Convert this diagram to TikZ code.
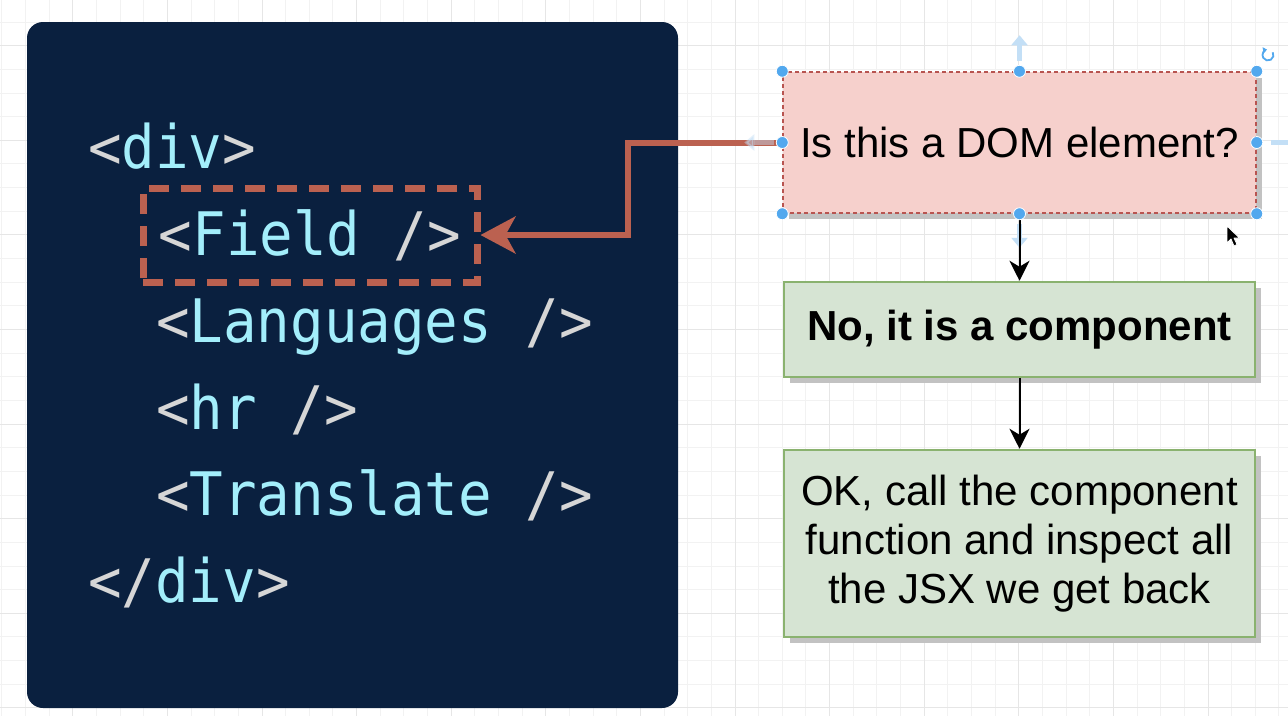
\documentclass[tikz,border=0pt]{standalone}
\usepackage{fontspec}
\setmainfont{Liberation Sans}
\newfontfamily\codefont[FakeStretch=0.93]{DejaVu Sans Mono}
\usetikzlibrary{positioning, shadows, arrows.meta}

\definecolor{navy}{HTML}{0A203F}
\definecolor{tagname}{HTML}{A3EEFB}
\definecolor{tagpunct}{HTML}{D6D6D6}
\definecolor{brick}{HTML}{BB6150}
\definecolor{pinkfill}{HTML}{F6D0CC}
\definecolor{pinkline}{HTML}{B85450}
\definecolor{greenfill}{HTML}{D6E4D3}
\definecolor{greenline}{HTML}{8AB26F}
\definecolor{handle}{HTML}{52A8EE}
\definecolor{hint}{HTML}{C3DFF6}
\definecolor{gridminor}{HTML}{F2F2F2}
\definecolor{gridmajor}{HTML}{E6E6E6}

\newcommand{\pn}[1]{\textcolor{tagpunct}{#1}}
\newcommand{\nm}[1]{\textcolor{tagname}{#1}}

\tikzset{
  codeline/.style={anchor=base west, inner sep=0pt, font=\codefont\fontsize{60}{86}\selectfont},
  flowbox/.style={line width=2pt, align=center, font=\fontsize{42}{49}\selectfont,
    drop shadow={shadow xshift=6pt, shadow yshift=-6pt, opacity=1, fill=black!24}},
  flowarrow/.style={black, line width=2pt, -{Stealth[length=20pt, width=20pt, inset=6pt]}},
  handledot/.style={circle, fill=handle, draw=white, line width=0.8pt, inner sep=0pt, minimum size=12pt},
  hintarrow/.style={hint, line width=5pt, -{Triangle[length=10pt, width=16pt]}},
}

\begin{document}
\begin{tikzpicture}[x=1pt, y=-1pt]
    \useasboundingbox (0,0) rectangle (1288,716);
    \fill[white] (0,0) rectangle (1288,716);

    % canvas grid
    \foreach \k in {0,...,54} {
        \draw[gridminor, line width=1pt] ({1.85+23.65*\k},0) -- ({1.85+23.65*\k},716);
    }
    \foreach \k in {0,...,30} {
        \draw[gridminor, line width=1pt] (0,{-1.6+23.65*\k}) -- (1288,{-1.6+23.65*\k});
    }
    \foreach \k in {0,...,13} {
        \draw[gridmajor, line width=1pt] ({72.8+94.6*\k},0) -- ({72.8+94.6*\k},716);
    }
    \foreach \k in {0,...,7} {
        \draw[gridmajor, line width=1pt] (0,{45.7+94.6*\k}) -- (1288,{45.7+94.6*\k});
    }

    % code panel
    \fill[navy, rounded corners=16pt] (27,22) rectangle (678,708);

    \node[codeline] (divopen) at (88,168) {\pn{<}\nm{div}\pn{>}};
    \node[codeline, anchor=center, draw=brick, line width=7pt, dash pattern=on 20pt off 12pt,
          minimum width=334pt, minimum height=94pt] (field) at (310,235) {\pn{<}\nm{Field} \pn{/>}};
    \node[codeline] (langs) at (156,342) {\pn{<}\nm{Languages} \pn{/>}};
    \node[codeline] (hrtag) at (156,429) {\pn{<}\nm{hr} \pn{/>}};
    \node[codeline] (transl) at (156,515) {\pn{<}\nm{Translate} \pn{/>}};
    \node[codeline] (divclose) at (88,602) {\pn{</}\nm{div}\pn{>}};

    % flow on the right
    \node[flowbox, fill=pinkfill, draw=pinkline, line width=1.5pt, dash pattern=on 4pt off 3pt,
          minimum width=473pt, minimum height=141pt] (dom) at (1019.5,142.5) {Is this a DOM element?};
    \node[flowbox, fill=greenfill, draw=greenline, minimum width=471pt, minimum height=95pt,
          font=\fontsize{42}{49}\selectfont\bfseries, below=67pt of dom] (comp) {No, it is a component};
    \node[flowbox, fill=greenfill, draw=greenline, minimum width=471pt, minimum height=187pt,
          below=71pt of comp] (inspect) {OK, call the component\\function and inspect all\\the JSX we get back};

    \draw[brick, line width=6pt, -{Stealth[length=35pt, width=37pt, inset=10pt]}]
        (dom.west) -- ++(-154,0) |- (field.east);

    % selection hints
    \draw[hintarrow] ([yshift=10pt]dom.north) -- ++(0,-26);
    \draw[hintarrow] ([yshift=-10pt]dom.south) -- ++(0,24);
    \draw[hintarrow] ([xshift=14pt]dom.east) -- ++(30,0);
    \draw[hintarrow, opacity=0.45] ([xshift=-8pt]dom.west) -- ++(-30,0);

    \draw[flowarrow] (dom) -- (comp);
    \draw[flowarrow] (comp) -- (inspect);

    \foreach \a/\n in {north west/hnw, north/hn, north east/hne, west/hw, east/he, south west/hsw, south/hs, south east/hse} {
        \node[handledot] (\n) at (dom.\a) {};
    }
    \draw[handle, line width=1.8pt, -{Triangle[length=4pt, width=6pt]}]
        ([shift={(16,-19)}]dom.north east) arc[start angle=30, delta angle=-290, radius=5.5pt];

    % mouse pointer
    \draw[fill=black, draw=white, line width=0.8pt, line join=round]
        (1227,226) -- ++(0,17) -- ++(4,-4) -- ++(3,7) -- ++(3,-1.5) -- ++(-3,-6.5) -- ++(5.5,0) -- cycle;
\end{tikzpicture}
\end{document}
